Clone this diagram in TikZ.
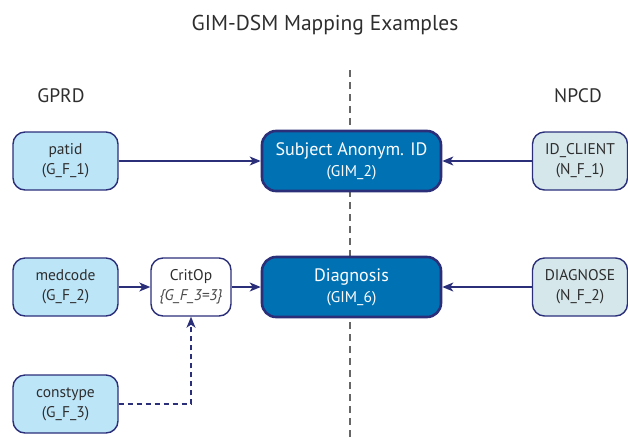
\documentclass[tikz,border=0pt]{standalone}
\usepackage{fontspec}
\setmainfont{PT Sans}
\usetikzlibrary{arrows.meta,positioning}
\definecolor{navy}{HTML}{2B2F7A}
\definecolor{lightblue}{HTML}{BDE5F8}
\definecolor{mainblue}{HTML}{0072B4}
\definecolor{grayblue}{HTML}{D6E7EB}
\definecolor{txt}{HTML}{2E2E2E}
\tikzset{
  srcbox/.style={draw=navy, line width=1.4pt, fill=lightblue, rounded corners=12pt,
    minimum width=105pt, minimum height=58pt, align=center, text=txt, font=\fontsize{15.5}{20}\selectfont},
  npcdbox/.style={srcbox, fill=grayblue, minimum width=95pt},
  opbox/.style={srcbox, fill=white, minimum width=80pt},
  gimbox/.style={draw=navy, line width=2.6pt, fill=mainblue, rounded corners=14pt,
    minimum width=179pt, minimum height=60pt, align=center, text=white, font=\fontsize{15.5}{21}\selectfont},
  conn/.style={draw=navy, line width=1.3pt, -{Stealth[length=11pt,width=9pt,inset=3pt]}},
  hdr/.style={text=txt, font=\fontsize{19.5}{22}\selectfont},
  ttl/.style={text=txt, font=\fontsize{21.5}{25}\selectfont}
}
\begin{document}
\begin{tikzpicture}[x=1pt,y=-1pt]
\useasboundingbox (0,0) rectangle (628,437);
\node[ttl] (title) at (325,25) {GIM-DSM Mapping Examples};
\node[hdr] (gprd) at (61,96) {GPRD};
\node[hdr] (npcd) at (578,96) {NPCD};
\coordinate (dtop) at (350,70);
\coordinate (dbot) at (350,440);
\draw[draw=black!60, line width=2.8pt, dash pattern=on 7pt off 5pt] (dtop) -- (dbot);

\node[srcbox] (patid) at (65.5,161) {patid\\(G\_F\_1)};
\node[gimbox] (subj) at (351.5,161) {{\fontsize{18}{21}\selectfont Subject Anonym. ID}\\(GIM\_2)};
\node[npcdbox] (idc) at (580,161) {ID\_CLIENT\\(N\_F\_1)};

\node[srcbox] (med) at (65.5,287) {medcode\\(G\_F\_2)};
\node[opbox] (crit) at (191,287) {CritOp\\{\itshape\color{black!70}\{G\_F\_3=3\}}};
\node[gimbox] (diag) at (351.5,287) {{\fontsize{18}{21}\selectfont Diagnosis}\\(GIM\_6)};
\node[npcdbox] (dgn) at (580,287) {DIAGNOSE\\(N\_F\_2)};

\node[srcbox] (cons) at (65.5,404) {constype\\(G\_F\_3)};

\draw[conn] (patid) -- (subj);
\draw[conn] (idc) -- (subj);
\draw[conn] (med) -- (crit);
\draw[conn] (crit) -- (diag);
\draw[conn] (dgn) -- (diag);
\draw[conn, dash pattern=on 5pt off 4pt] (cons.east) -| (crit.south);
\end{tikzpicture}
\end{document}
